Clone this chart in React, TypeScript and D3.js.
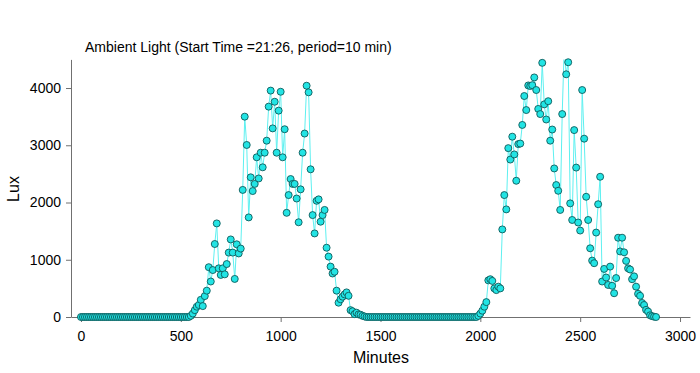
import { useEffect, useRef } from "react";
import * as d3 from "d3";

// sampled every 10 min starting at minute 0
const period = 10;
const lux = [
  0, 0, 0, 0, 0, 0, 0, 0, 0, 0,
  0, 0, 0, 0, 0, 0, 0, 0, 0, 0,
  0, 0, 0, 0, 0, 0, 0, 0, 0, 0,
  0, 0, 0, 0, 0, 0, 0, 0, 0, 0,
  0, 0, 0, 0, 0, 0, 0, 0, 0, 0,
  0, 0, 0, 0, 0, 20, 60, 120, 180, 210, // 500-590
  300, 190, 365, 460, 870, 620, 820, 1275, 1635, 850, // 600
  735, 850, 745, 925, 1125, 1355, 1125, 665, 1270, 1110, // 700
  1195, 2220, 3500, 3005, 1740, 2440, 2200, 2325, 2790, 2420, // 800
  2870, 2615, 2870, 3080, 3675, 3955, 3295, 3760, 2870, 3605, // 900
  3935, 2790, 3280, 1820, 2130, 2410, 2325, 2325, 2070, 1655, // 1000
  2230, 2870, 3205, 4040, 3925, 2580, 1780, 1460, 2030, 2055, // 1100
  1665, 1780, 1870, 1210, 1055, 880, 760, 790, 460, 250, // 1200
  310, 355, 395, 430, 370, 120, 100, 50, 75, 45, // 1300
  40, 20, 10, 0, 0, 0, 0, 0, 0, 0, // 1400
  0, 0, 0, 0, 0, 0, 0, 0, 0, 0,
  0, 0, 0, 0, 0, 0, 0, 0, 0, 0,
  0, 0, 0, 0, 0, 0, 0, 0, 0, 0,
  0, 0, 0, 0, 0, 0, 0, 0, 0, 0,
  0, 0, 0, 0, 0, 0, 0, 0, 0, 20, // 1900
  60, 110, 180, 260, 640, 660, 630, 500, 470, 530, // 2000
  500, 1530, 2130, 1880, 2950, 2750, 3150, 2840, 2380, 3020, // 2100
  3030, 3355, 3860, 3615, 4045, 4035, 4050, 4185, 3965, 3635, // 2200
  3545, 4440, 3715, 3450, 3770, 3080, 3275, 2595, 2305, 2205, // 2300
  1870, 3545, 4700, 4240, 4450, 1985, 1695, 3265, 2610, 1650, // 2400
  1510, 3965, 3115, 2100, 1695, 1200, 985, 940, 1475, 1970, // 2500
  2450, 620, 840, 690, 560, 880, 545, 415, 680, 1385, // 2600
  1145, 1385, 1130, 980, 850, 830, 660, 710, 530, 405, // 2700
  370, 245, 210, 125, 95, 30, 15, 5, 0, // 2800
];
const xTicks = [0, 500, 1000, 1500, 2000, 2500, 3000];
const yTicks = [0, 1000, 2000, 3000, 4000];
const title = "Ambient Light (Start Time =21:26, period=10 min)";

const font = "Liberation Sans, Arial, sans-serif";

export default function App() {
  const ref = useRef<SVGSVGElement>(null);

  useEffect(() => {
    if (!ref.current) return;
    const svg = d3.select(ref.current);
    svg.selectAll("*").remove();

    const points = lux.map((v, i) => ({ m: i * period, v }));

    const x = d3.scaleLinear().domain([-50, 3050]).range([71, 690]);
    const y = d3.scaleLinear().domain([0, 4500]).range([317, 59.4]);

    svg
      .append("defs")
      .append("clipPath")
      .attr("id", "plot")
      .append("rect")
      .attr("x", 71)
      .attr("y", 59.4)
      .attr("width", 619)
      .attr("height", 270);

    const line = d3
      .line<{ m: number; v: number }>()
      .x((d) => x(d.m))
      .y((d) => y(d.v));

    svg
      .append("path")
      .datum(points)
      .attr("d", line)
      .attr("fill", "none")
      .attr("stroke", "#5ef0f0")
      .attr("stroke-width", 1)
      .attr("clip-path", "url(#plot)");

    const yAxis = svg
      .append("g")
      .attr("transform", "translate(71,0)")
      .call(
        d3.axisLeft(y).tickValues(yTicks).tickSize(5).tickSizeOuter(0).tickPadding(5).tickFormat(d3.format("d"))
      );
    const xAxis = svg
      .append("g")
      .attr("transform", "translate(0,317)")
      .call(
        d3.axisBottom(x).tickValues(xTicks).tickSize(5).tickSizeOuter(0).tickPadding(9).tickFormat(d3.format("d"))
      );
    [yAxis, xAxis].forEach((g) => {
      g.attr("font-family", font).attr("font-size", 14);
      g.selectAll("path,line").attr("stroke", "#707070");
      g.selectAll("text").attr("fill", "#000");
    });

    svg
      .append("g")
      .selectAll("circle")
      .data(points.filter((d) => d.v <= 4500))
      .enter()
      .append("circle")
      .attr("cx", (d) => x(d.m))
      .attr("cy", (d) => y(d.v))
      .attr("r", 3.5)
      .attr("fill", "#22e4e4")
      .attr("stroke", "#0d5a5a")
      .attr("stroke-width", 0.9);

    svg
      .append("text")
      .attr("x", 85)
      .attr("y", 52)
      .attr("font-family", font)
      .attr("font-size", 14)
      .text(title);

    svg
      .append("text")
      .attr("x", 381)
      .attr("y", 363)
      .attr("text-anchor", "middle")
      .attr("font-family", font)
      .attr("font-size", 16)
      .text("Minutes");

    svg
      .append("text")
      .attr("transform", "translate(19,189) rotate(-90)")
      .attr("text-anchor", "middle")
      .attr("font-family", font)
      .attr("font-size", 16)
      .text("Lux");
  }, []);

  return (
    <svg
      ref={ref}
      width={700}
      height={373}
      style={{ position: "absolute", left: 0, top: 0, background: "#fff" }}
    />
  );
}
